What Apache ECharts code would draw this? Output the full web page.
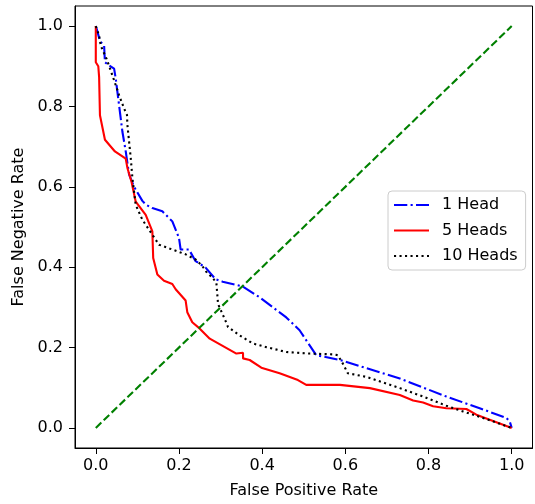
<!DOCTYPE html>
<html><head><meta charset="utf-8">
<script src="https://cdn.jsdelivr.net/npm/echarts@6/dist/echarts.min.js"></script>
<style>html,body{margin:0;padding:0;background:#fff}#c{width:535px;height:504px}</style>
</head><body><div id="c"></div>
<script>
// ---- data ----
const fpr1 = [0,0.003,0.01,0.02,0.022,0.032,0.044,0.048,0.056,0.064,0.072,0.08,0.092,0.112,0.12,0.136,0.16,0.184,0.2,0.204,0.224,0.24,0.264,0.288,0.305,0.353,0.394,0.458,0.49,0.53,0.587,0.731,0.843,0.923,0.987,0.995,1.0];
const fnr1 = [1.0,0.99,0.963,0.951,0.91,0.902,0.894,0.869,0.803,0.737,0.688,0.631,0.6,0.565,0.556,0.547,0.539,0.514,0.473,0.444,0.444,0.415,0.399,0.37,0.364,0.352,0.325,0.275,0.243,0.181,0.169,0.123,0.078,0.049,0.025,0.017,0.0];
const fpr5 = [0,0,0.006,0.008,0.01,0.022,0.046,0.072,0.076,0.086,0.096,0.12,0.136,0.138,0.148,0.164,0.184,0.192,0.216,0.22,0.232,0.25,0.274,0.338,0.354,0.354,0.37,0.398,0.442,0.486,0.506,0.587,0.659,0.731,0.763,0.787,0.811,0.843,0.891,0.915,1.0];
const fnr5 = [1.0,0.91,0.90,0.873,0.778,0.717,0.688,0.670,0.647,0.612,0.563,0.53,0.489,0.423,0.382,0.366,0.358,0.345,0.317,0.288,0.263,0.247,0.222,0.185,0.187,0.173,0.169,0.150,0.136,0.119,0.107,0.107,0.099,0.082,0.068,0.063,0.054,0.049,0.047,0.033,0.0];
const fpr10 = [0,0.008,0.012,0.026,0.036,0.044,0.056,0.068,0.075,0.076,0.08,0.084,0.088,0.092,0.096,0.112,0.136,0.152,0.184,0.216,0.24,0.256,0.268,0.281,0.29,0.294,0.31,0.318,0.346,0.378,0.41,0.458,0.514,0.57,0.582,0.594,0.606,0.651,0.731,0.787,0.843,0.883,0.939,1.0];
const fnr10 = [1.0,0.976,0.951,0.918,0.889,0.865,0.828,0.795,0.779,0.754,0.713,0.672,0.622,0.588,0.555,0.518,0.481,0.456,0.444,0.432,0.419,0.403,0.385,0.374,0.36,0.308,0.271,0.251,0.23,0.21,0.201,0.189,0.185,0.183,0.181,0.16,0.136,0.127,0.099,0.078,0.055,0.041,0.022,0.0];
const diagX = [0,1];
const diagY = [0,1];
const seriesNames = ['1 Head','5 Heads','10 Heads'];
const xTicks = [0,0.2,0.4,0.6,0.8,1.0];
const yTicks = [0,0.2,0.4,0.6,0.8,1.0];

const zip = (a,b) => a.map((v,i)=>[v,b[i]]);
const FONT = 'DejaVu Sans';
const FS = 16;
const LW = 2.1;

const chart = echarts.init(document.getElementById('c'), null, {renderer:'canvas'});
const axisCommon = {
  type:'value', min:-0.05, max:1.05,
  axisLine:{show:true, onZero:false, lineStyle:{color:'#000', width:1}},
  axisTick:{show:true, inside:false, length:6, lineStyle:{color:'#000', width:1}},
  splitLine:{show:false},
  nameLocation:'middle',
  nameTextStyle:{fontFamily:FONT, fontSize:FS, color:'#000'}
};
chart.setOption({
  animation:false,
  backgroundColor:'#fff',
  grid:{left:75, top:6, right:2.5, bottom:52, show:true, borderColor:'#000', borderWidth:1, containLabel:false},
  xAxis:Object.assign({}, axisCommon, {
    name:'False Positive Rate', nameGap:35,
    axisTick:Object.assign({}, axisCommon.axisTick, {customValues:xTicks}),
    axisLabel:{customValues:xTicks, formatter:v=>v.toFixed(1), fontFamily:FONT, fontSize:FS, color:'#000', margin:10}
  }),
  yAxis:Object.assign({}, axisCommon, {
    name:'False Negative Rate', nameGap:43,
    axisTick:Object.assign({}, axisCommon.axisTick, {customValues:yTicks}),
    axisLabel:{customValues:yTicks, formatter:v=>v.toFixed(1), fontFamily:FONT, fontSize:FS, color:'#000', margin:12}
  }),
  legend:{
    orient:'vertical', left:388, top:191,
    data:seriesNames,
    itemWidth:35, itemHeight:14, itemGap:9.5,
    padding:[6,8,6,5],
    backgroundColor:'rgba(255,255,255,0.8)',
    borderColor:'#cccccc', borderWidth:1, borderRadius:4,
    itemStyle:{opacity:0},
    textStyle:{fontFamily:FONT, fontSize:FS, color:'#000', padding:[0,0,0,8]}
  },
  series:[
    {name:'1 Head', type:'line', data:zip(fpr1,fnr1), symbol:'none', showSymbol:false,
     lineStyle:{color:'#0000ff', width:LW, type:[13.3,3.3,2.1,3.3]}, itemStyle:{color:'#0000ff'}},
    {name:'5 Heads', type:'line', data:zip(fpr5,fnr5), symbol:'none', showSymbol:false,
     lineStyle:{color:'#ff0000', width:LW, type:'solid'}, itemStyle:{color:'#ff0000'}},
    {name:'10 Heads', type:'line', data:zip(fpr10,fnr10), symbol:'none', showSymbol:false,
     lineStyle:{color:'#000000', width:LW, type:[2.1,3.4]}, itemStyle:{color:'#000000'}},
    {name:'diag', type:'line', data:zip(diagX,diagY), symbol:'none', showSymbol:false,
     lineStyle:{color:'#008000', width:LW, type:[7.7,3.3]}, itemStyle:{color:'#008000'}}
  ]
});
</script></body></html>
